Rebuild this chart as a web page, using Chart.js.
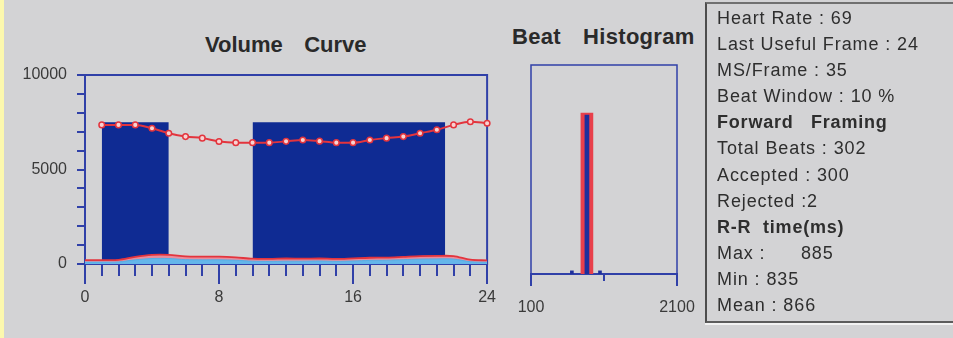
<!DOCTYPE html>
<html><head><meta charset="utf-8">
<script src="https://cdn.jsdelivr.net/npm/chart.js@4.4.1/dist/chart.umd.min.js"></script>
<style>
html,body{margin:0;padding:0;}
body{width:953px;height:338px;overflow:hidden;background:#d3d3d5;position:relative;font-family:'Liberation Sans',Arial,sans-serif;}
#strip{position:absolute;left:0;top:0;width:4px;height:338px;background:#fcf8ae;}
canvas{position:absolute;top:0;}
#c1{left:0;}
#c2{left:500px;}
.title{position:absolute;font-weight:bold;font-size:22px;color:#2a2a2a;white-space:pre;line-height:26px;word-spacing:1px;}
#panel{position:absolute;left:705px;top:2px;width:260px;height:316px;border-left:2px solid #4d4d4d;border-top:2px solid #707070;border-bottom:2px solid #5c5c5c;box-shadow:0 2px 0 #f2f2f2;padding:1px 0 0 10px;font-size:18px;color:#2e2e2e;letter-spacing:0.9px;}
.ln{height:26.1px;line-height:26.1px;white-space:pre;}
.b{font-weight:bold;letter-spacing:0.8px;}
</style>
</head>
<body>
<div id="strip"></div>
<div class="title" style="left:205px;top:32px;">Volume   Curve</div>
<div class="title" style="left:512px;top:24px;letter-spacing:0.3px;">Beat   Histogram</div>
<canvas id="c1" width="500" height="338"></canvas>
<canvas id="c2" width="207" height="338"></canvas>
<div id="panel"></div>
<script>
// ---------- data ----------
const edvFrames = [1,2,3,4,5,6,7,8,9,10,11,12,13,14,15,16,17,18,19,20,21,22,23,24];
const edvVolume = [7360,7360,7360,7180,6920,6740,6660,6480,6420,6420,6420,6490,6560,6500,6420,6420,6560,6660,6740,6920,7100,7360,7530,7450];
const lowFrames = [0,1,2,3,4,5,6,7,8,9,10,11,12,13,14,15,16,17,18,19,20,21,22,23,24];
const esvVolume = [210,210,220,380,480,480,400,390,390,350,280,270,290,280,290,270,300,330,340,380,420,430,420,230,190];
const baseVolume = [100,100,110,220,290,290,230,220,220,200,150,140,150,150,160,140,160,190,200,230,260,270,260,120,90];
const windowStart = [1, 10];
const windowEnd = [5, 21.5];
const windowLevel = [7500, 7500];
const volumeTickLabels = [0, 5000, 10000];
const frameTickLabels = [0, 8, 16, 24];

const rrAxisLabels = [100, 2100];
const beatRR = [866];
const beatCount = [76];
const windowRR = [866];
const windowCount = [77];
const rejectedRR = [660, 1045];
const rejectedCount = [1.5, 1.5];

const infoLines = [
  ['Heart Rate : 69', false],
  ['Last Useful Frame : 24', false],
  ['MS/Frame : 35', false],
  ['Beat Window : 10 %', false],
  ['Forward   Framing', true],
  ['Total Beats : 302', false],
  ['Accepted : 300', false],
  ['Rejected :2', false],
  ['R-R  time(ms)', true],
  ['Max :      885', false],
  ['Min : 835', false],
  ['Mean : 866', false]
];

// ---------- styles ----------
const AXIS = '#3040a8';
const NAVY = '#0f2b93';
const RED = '#e3343d';
const LABEL = '#3a3a3a';
Chart.defaults.font.family = "'Liberation Sans', Arial, sans-serif";

const framePlugin = {
  id: 'frame',
  beforeDatasetsDraw(chart, args, opts) {
    const a = chart.chartArea, ctx = chart.ctx;
    ctx.save();
    ctx.strokeStyle = opts.color || AXIS;
    ctx.lineWidth = opts.width || 1.5;
    ctx.strokeRect(a.left, a.top, a.right - a.left, a.bottom - a.top);
    ctx.restore();
  }
};

// panel text
const panel = document.getElementById('panel');
infoLines.forEach(([t, b]) => {
  const d = document.createElement('div');
  d.className = 'ln' + (b ? ' b' : '');
  d.textContent = t;
  panel.appendChild(d);
});

// ---------- volume curve ----------
const blocks = [];
windowStart.forEach((s, i) => {
  blocks.push({x: s, y: windowLevel[i]});
  blocks.push({x: windowEnd[i], y: windowLevel[i]});
  blocks.push({x: windowEnd[i], y: null});
});

new Chart(document.getElementById('c1'), {
  type: 'line',
  data: {
    datasets: [
      {label: 'EDV', data: edvFrames.map((f, i) => ({x: f, y: edvVolume[i]})),
       borderColor: RED, borderWidth: 2, pointRadius: 2.8, pointBorderWidth: 1.5,
       pointBackgroundColor: '#f8d2d2', pointBorderColor: RED,
       cubicInterpolationMode: 'monotone', fill: false, clip: false},
      {label: 'Base', data: lowFrames.map((f, i) => ({x: f, y: baseVolume[i]})),
       borderColor: '#55aee6', borderWidth: 1, pointRadius: 0, fill: 'origin',
       backgroundColor: '#64b6ea', tension: 0.3},
      {label: 'ESV', data: lowFrames.map((f, i) => ({x: f, y: esvVolume[i]})),
       borderColor: RED, borderWidth: 1.8, pointRadius: 0, fill: 'origin',
       backgroundColor: '#e98c9c', tension: 0.3},
      {label: 'Window', data: blocks, borderWidth: 0, pointRadius: 0, fill: 'origin',
       backgroundColor: NAVY, spanGaps: false}
    ]
  },
  options: {
    responsive: false, animation: false, devicePixelRatio: 1,
    layout: {padding: {left: 0, right: 11, top: 75, bottom: 0}},
    plugins: {legend: {display: false}, tooltip: {enabled: false}, frame: {color: AXIS, width: 2}},
    scales: {
      x: {type: 'linear', min: 0, max: 24, offset: false,
          ticks: {stepSize: 1, display: false, autoSkip: false},
          grid: {offset: false, drawOnChartArea: false, tickLength: 12, color: AXIS, lineWidth: 2},
          border: {color: AXIS, width: 2},
          afterFit: s => { s.height = 74; }},
      xMajor: {type: 'linear', axis: 'x', position: {y: 0}, min: 0, max: 24, offset: false,
          afterBuildTicks: s => { s.ticks = frameTickLabels.map(v => ({value: v})); },
          ticks: {autoSkip: false, padding: 4, color: LABEL, font: {size: 16}, callback: v => String(v)},
          grid: {offset: false, drawOnChartArea: false, tickLength: 20, color: AXIS, lineWidth: 2},
          border: {display: false}},
      y: {min: 0, max: 10000,
          ticks: {stepSize: 1000, autoSkip: false, padding: 10, color: LABEL, font: {size: 16},
                  callback: v => volumeTickLabels.includes(v) ? String(v) : ''},
          grid: {drawOnChartArea: false, tickLength: 8, color: AXIS, lineWidth: 2},
          border: {color: AXIS, width: 2},
          afterFit: s => { s.width = 85; }}
    }
  },
  plugins: [framePlugin]
});

// ---------- beat histogram ----------
new Chart(document.getElementById('c2'), {
  type: 'bar',
  data: {
    datasets: [
      {label: 'Accepted', data: beatRR.map((v, i) => ({x: v, y: beatCount[i]})),
       backgroundColor: '#1d2f9c', barThickness: 4, grouped: false},
      {label: 'Rejected', data: rejectedRR.map((v, i) => ({x: v, y: rejectedCount[i]})),
       backgroundColor: '#1d2f9c', barThickness: 3, grouped: false},
      {label: 'Window', data: windowRR.map((v, i) => ({x: v, y: windowCount[i]})),
       backgroundColor: '#e8404b', barThickness: 12, grouped: false}
    ]
  },
  options: {
    responsive: false, animation: false, devicePixelRatio: 1,
    layout: {padding: {left: 31, right: 30, top: 65, bottom: 0}},
    plugins: {legend: {display: false}, tooltip: {enabled: false}, frame: {color: AXIS, width: 1.5}},
    scales: {
      x: {type: 'linear', min: 100, max: 2100, offset: false,
          ticks: {stepSize: 1000, display: false, autoSkip: false},
          grid: {offset: false, drawOnChartArea: false, tickLength: 7, color: AXIS, lineWidth: 2},
          border: {color: AXIS, width: 2},
          afterFit: s => { s.height = 64; }},
      xMajor: {type: 'linear', axis: 'x', position: {y: 0}, min: 100, max: 2100, offset: false,
          afterBuildTicks: s => { s.ticks = rrAxisLabels.map(v => ({value: v})); },
          ticks: {autoSkip: false, padding: 12, color: LABEL, font: {size: 16}, callback: v => String(v)},
          grid: {offset: false, drawOnChartArea: false, tickLength: 12, color: AXIS, lineWidth: 2},
          border: {display: false}},
      y: {display: false, min: 0, max: 100}
    }
  },
  plugins: [framePlugin]
});
</script>
</body></html>
